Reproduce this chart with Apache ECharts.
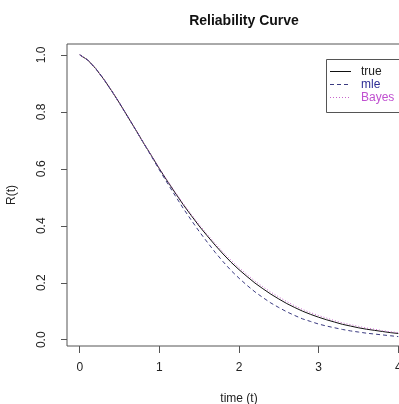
<!DOCTYPE html>
<html>
<head>
<meta charset="utf-8">
<script src="https://cdn.jsdelivr.net/npm/echarts@6/dist/echarts.min.js"></script>
<style>
html,body{margin:0;padding:0;background:#fff;}
#chart{width:399px;height:404px;}
</style>
</head>
<body>
<div id="chart"></div>
<script>
var times = [0,0.1,0.2,0.3,0.4,0.5,0.6,0.7,0.8,0.9,1.0,1.1,1.2,1.3,1.4,1.5,1.6,1.7,1.8,1.9,2.0,2.1,2.2,2.3,2.4,2.5,2.6,2.7,2.8,2.9,3.0,3.1,3.2,3.3,3.4,3.5,3.6,3.7,3.8,3.9,4.0];
var trueR = [1.000,0.982,0.952,0.915,0.874,0.830,0.784,0.738,0.691,0.646,0.600,0.557,0.515,0.474,0.436,0.399,0.365,0.332,0.301,0.272,0.246,0.222,0.199,0.179,0.160,0.143,0.127,0.113,0.100,0.089,0.079,0.070,0.062,0.054,0.048,0.042,0.037,0.033,0.029,0.025,0.022];
var mleR = [1.000,0.982,0.952,0.915,0.874,0.830,0.784,0.738,0.691,0.644,0.596,0.550,0.505,0.461,0.420,0.380,0.343,0.307,0.274,0.243,0.216,0.191,0.168,0.148,0.129,0.113,0.098,0.085,0.073,0.064,0.055,0.048,0.042,0.036,0.031,0.027,0.023,0.020,0.017,0.014,0.011];
var bayesR = [1.000,0.982,0.952,0.916,0.875,0.831,0.785,0.739,0.692,0.647,0.602,0.559,0.518,0.478,0.440,0.404,0.370,0.338,0.307,0.279,0.253,0.229,0.206,0.186,0.167,0.150,0.134,0.119,0.106,0.095,0.085,0.076,0.067,0.059,0.053,0.047,0.041,0.037,0.032,0.028,0.025];
var xTicks = [0,1,2,3,4];
var yTicks = [0,0.2,0.4,0.6,0.8,1.0];
var seriesNames = ['true','mle','Bayes'];
var titleText = 'Reliability Curve';
var xName = 'time (t)';
var yName = 'R(t)';

function pairs(ys){ return times.map(function(t,i){ return [t, ys[i]]; }); }

var FONT = '"Liberation Sans", Arial, sans-serif';
var axisColor = '#555';
var chart = echarts.init(document.getElementById('chart'), null, {renderer:'canvas'});
chart.setOption({
  animation: false,
  backgroundColor: '#fff',
  title: {
    text: titleText,
    left: 239, top: 9, textAlign: 'center',
    textStyle: {fontFamily: FONT, fontSize: 14, fontWeight: 'bold', color: '#111'}
  },
  grid: {left: 67, top: 44, width: 344, height: 302, show: true, borderColor: axisColor, borderWidth: 1,
    backgroundColor: 'transparent', containLabel: false, outerBoundsMode: 'none'},
  xAxis: {
    type: 'value', min: -0.16, max: 4.16,
    name: xName, nameLocation: 'middle', nameGap: 47,
    nameTextStyle: {fontFamily: FONT, fontSize: 12, color: '#222'},
    axisLine: {show: false, onZero: false},
    axisTick: {show: true, inside: false, length: 7, customValues: xTicks, lineStyle: {color: axisColor}},
    axisLabel: {customValues: xTicks, margin: 16, fontFamily: FONT, fontSize: 12, color: '#222'},
    splitLine: {show: false}
  },
  yAxis: {
    type: 'value', min: -0.022, max: 1.038,
    name: yName, nameLocation: 'middle', nameGap: 49,
    nameTextStyle: {fontFamily: FONT, fontSize: 12, color: '#222'},
    axisLine: {show: false, onZero: false},
    axisTick: {show: true, inside: false, length: 6, customValues: yTicks, lineStyle: {color: axisColor}},
    axisLabel: {customValues: yTicks, rotate: 90, margin: 19, fontFamily: FONT, fontSize: 12, color: '#222',
      formatter: function(v){ return v.toFixed(1); }},
    splitLine: {show: false}
  },
  series: [
    {name: seriesNames[0], type: 'line', data: pairs(trueR), showSymbol: false, smooth: false,
     lineStyle: {color: '#111', width: 1, type: 'solid'}},
    {name: seriesNames[1], type: 'line', data: pairs(mleR), showSymbol: false,
     lineStyle: {color: '#3a3a80', width: 1, type: [4,3]}},
    {name: seriesNames[2], type: 'line', data: pairs(bayesR), showSymbol: false,
     lineStyle: {color: '#c866cc', width: 1, type: [1,2]}}
  ],
  graphic: [
    {type: 'rect', shape: {x: 326.5, y: 59.5, width: 100, height: 53}, style: {fill: '#fff', stroke: axisColor, lineWidth: 1}, z: 100},
    {type: 'line', shape: {x1: 330, y1: 71.5, x2: 351, y2: 71.5}, style: {stroke: '#111', lineWidth: 1}, z: 101},
    {type: 'line', shape: {x1: 330, y1: 84.5, x2: 351, y2: 84.5}, style: {stroke: '#3a3a80', lineWidth: 1, lineDash: [4,3]}, z: 101},
    {type: 'line', shape: {x1: 330, y1: 97.5, x2: 351, y2: 97.5}, style: {stroke: '#c866cc', lineWidth: 1, lineDash: [1,2]}, z: 101},
    {type: 'text', x: 361, y: 72, style: {text: seriesNames[0], fill: '#222', font: '12px ' + FONT, verticalAlign: 'middle'}, z: 101},
    {type: 'text', x: 361, y: 85, style: {text: seriesNames[1], fill: '#2e2e95', font: '12px ' + FONT, verticalAlign: 'middle'}, z: 101},
    {type: 'text', x: 361, y: 98, style: {text: seriesNames[2], fill: '#c050d0', font: '12px ' + FONT, verticalAlign: 'middle'}, z: 101}
  ]
});
</script>
</body>
</html>
